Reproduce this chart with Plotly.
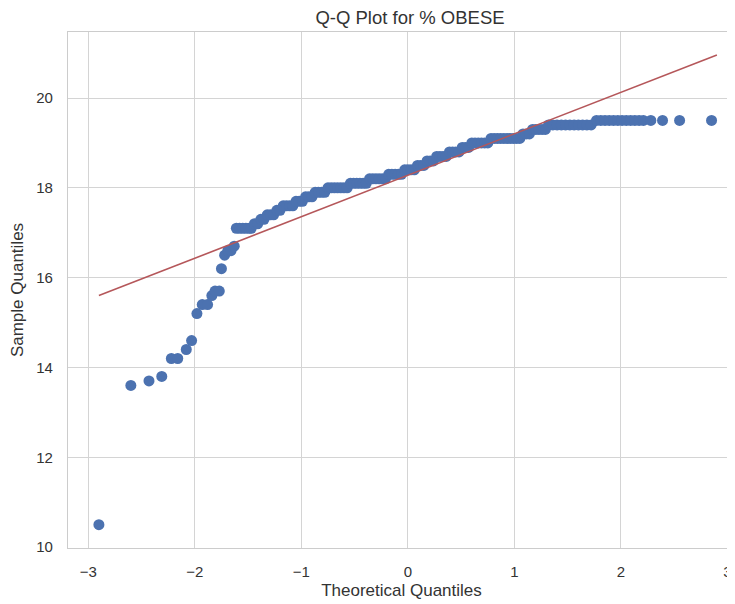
import plotly.graph_objects as go

# Points (theoretical quantile, sample quantile)
theoretical = [
    -2.90, -2.60, -2.43, -2.31, -2.22, -2.16, -2.08, -2.03, -1.98, -1.93, -1.88,
    -1.84, -1.81, -1.77, -1.75, -1.72, -1.69, -1.66, -1.63,
    -1.61, -1.58, -1.55, -1.52, -1.49, -1.47,
    -1.44, -1.41,
    -1.38, -1.35,
    -1.32, -1.29, -1.26,
    -1.23, -1.20,
    -1.17, -1.14, -1.11, -1.08,
    -1.05, -1.02, -0.99,
    -0.96, -0.93, -0.90,
    -0.87, -0.84, -0.81, -0.78,
    -0.75, -0.72, -0.69, -0.66, -0.63, -0.60, -0.57,
    -0.54, -0.51, -0.48, -0.45, -0.42, -0.39,
    -0.36, -0.33, -0.30, -0.27, -0.24, -0.21,
    -0.18, -0.15, -0.12, -0.09, -0.06,
    -0.03, 0.00, 0.03, 0.06,
    0.09, 0.12, 0.15,
    0.18, 0.21, 0.24,
    0.27, 0.30, 0.33, 0.36,
    0.39, 0.42, 0.45, 0.48,
    0.51, 0.54, 0.57,
    0.60, 0.63, 0.66, 0.69, 0.72, 0.75,
    0.78, 0.81, 0.84, 0.87, 0.90, 0.93, 0.96, 0.99, 1.02, 1.05,
    1.08, 1.11, 1.14,
    1.17, 1.20, 1.23, 1.26, 1.29,
    1.32, 1.36, 1.40, 1.44, 1.48, 1.52, 1.56, 1.60, 1.64, 1.68, 1.72,
    1.77, 1.81, 1.85, 1.89, 1.93, 1.97, 2.01, 2.05, 2.09, 2.13, 2.17, 2.21,
    2.28, 2.39, 2.55, 2.85,
]
sample = [
    10.5, 13.6, 13.7, 13.8, 14.2, 14.2, 14.4, 14.6, 15.2, 15.4, 15.4,
    15.6, 15.7, 15.7, 16.2, 16.5, 16.6, 16.6, 16.7,
    17.1, 17.1, 17.1, 17.1, 17.1, 17.1,
    17.2, 17.2,
    17.3, 17.3,
    17.4, 17.4, 17.4,
    17.5, 17.5,
    17.6, 17.6, 17.6, 17.6,
    17.7, 17.7, 17.7,
    17.8, 17.8, 17.8,
    17.9, 17.9, 17.9, 17.9,
    18.0, 18.0, 18.0, 18.0, 18.0, 18.0, 18.0,
    18.1, 18.1, 18.1, 18.1, 18.1, 18.1,
    18.2, 18.2, 18.2, 18.2, 18.2, 18.2,
    18.3, 18.3, 18.3, 18.3, 18.3,
    18.4, 18.4, 18.4, 18.4,
    18.5, 18.5, 18.5,
    18.6, 18.6, 18.6,
    18.7, 18.7, 18.7, 18.7,
    18.8, 18.8, 18.8, 18.8,
    18.9, 18.9, 18.9,
    19.0, 19.0, 19.0, 19.0, 19.0, 19.0,
    19.1, 19.1, 19.1, 19.1, 19.1, 19.1, 19.1, 19.1, 19.1, 19.1,
    19.2, 19.2, 19.2,
    19.3, 19.3, 19.3, 19.3, 19.3,
    19.4, 19.4, 19.4, 19.4, 19.4, 19.4, 19.4, 19.4, 19.4, 19.4, 19.4,
    19.5, 19.5, 19.5, 19.5, 19.5, 19.5, 19.5, 19.5, 19.5, 19.5, 19.5, 19.5,
    19.5, 19.5, 19.5, 19.5,
]

# Reference line endpoints
line_x = [-2.90, 2.90]
line_y = [15.60, 20.96]

x_ticks = [-3, -2, -1, 0, 1, 2, 3]
x_labels = ["−3", "−2", "−1", "0", "1", "2", "3"]
y_ticks = [10, 12, 14, 16, 18, 20]

FONT = "Arial, 'Liberation Sans', sans-serif"
GRID = "#d4d4d4"
TXT = "#333333"

# The page body adds an 8px offset; the figure is sized to fill the rest.
W, H = 727, 596

fig = go.Figure()
fig.add_trace(go.Scatter(
    x=theoretical, y=sample, mode="markers",
    marker=dict(color="#4C72B0", size=11, line=dict(width=0)),
    showlegend=False,
))
fig.add_trace(go.Scatter(
    x=line_x, y=line_y, mode="lines",
    line=dict(color="#B5575A", width=1.6),
    showlegend=False,
))

fig.update_layout(
    width=W, height=H,
    margin=dict(l=60, r=0, t=24, b=56),
    paper_bgcolor="white", plot_bgcolor="white",
    font=dict(family=FONT, color=TXT, size=15),
    title=dict(text="Q-Q Plot for % OBESE", x=402 / W, xanchor="center",
               y=1 - 10 / H, yanchor="middle", automargin=False,
               font=dict(size=18.5, color=TXT)),
    xaxis=dict(
        range=[-3.19, 3.07], tickvals=x_ticks, ticktext=x_labels,
        showgrid=True, gridcolor=GRID, gridwidth=1, zeroline=False,
        showline=True, linecolor="#cccccc", linewidth=1.3, mirror=True,
        ticks="", ticklabelstandoff=10, automargin=False,
        tickfont=dict(size=15),
        title=dict(text="Theoretical Quantiles", font=dict(size=17), standoff=4),
    ),
    yaxis=dict(
        range=[9.98, 21.47], tickvals=y_ticks,
        showgrid=True, gridcolor=GRID, gridwidth=1, zeroline=False,
        showline=True, linecolor="#cccccc", linewidth=1.3,
        ticks="", ticklabelstandoff=11, automargin=False,
        tickfont=dict(size=15),
        title=dict(text="Sample Quantiles", font=dict(size=17), standoff=12),
    ),
)

fig.write_html("out.html")
